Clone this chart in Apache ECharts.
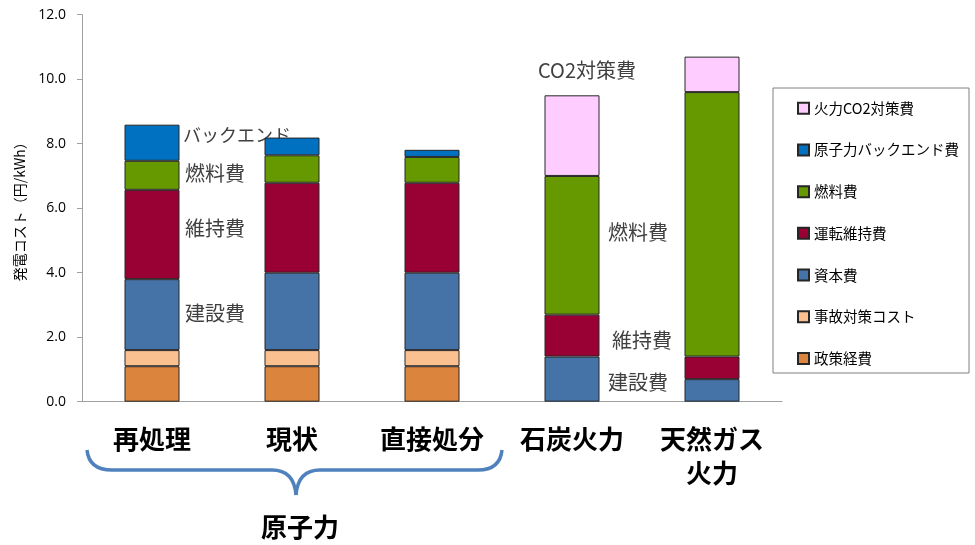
<!DOCTYPE html>
<html><head><meta charset="utf-8">
<script src="https://cdn.jsdelivr.net/npm/echarts@6/dist/echarts.min.js"></script>
<style>html,body{margin:0;padding:0;background:#fff}#c{width:975px;height:545px}</style>
</head><body><div id="c"></div>
<script>
const categories = ['再処理', '現状', '直接処分', '石炭火力', '天然ガス\n火力'];
const seriesNames = ['政策経費', '事故対策コスト', '資本費', '運転維持費', '燃料費', '原子力バックエンド費', '火力CO2対策費'];
const policyCost   = [1.1, 1.1, 1.1, null, null];
const accidentCost = [0.5, 0.5, 0.5, null, null];
const capitalCost  = [2.2, 2.4, 2.4, 1.4, 0.7];
const omCost       = [2.77, 2.79, 2.79, 1.3, 0.7];
const fuelCost     = [0.9, 0.85, 0.8, 4.3, 8.2];
const backendCost  = [1.12, 0.55, 0.22, null, null];
const co2Cost      = [null, null, null, 2.5, 1.1];
const yTicks = [0, 2, 4, 6, 8, 10, 12];
const colors = ['#DB843D', '#FAC090', '#4572A7', '#990033', '#669900', '#0070C0', '#FFCCFF'];
const values = [policyCost, accidentCost, capitalCost, omCost, fuelCost, backendCost, co2Cost];

const chart = echarts.init(document.getElementById('c'));
const jp = '"Noto Sans CJK JP", "Noto Sans", sans-serif';
const braceStyle = {fill: 'none', stroke: '#4F81BD', lineWidth: 3.5};
function anno(text, x, y, fs) {
  return {type: 'text', x: x, y: y, style: {text: text, verticalAlign: 'middle', fill: '#404040', fontSize: fs || 20, fontFamily: jp}};
}

chart.setOption({
  animation: false,
  textStyle: {fontFamily: jp},
  grid: {left: 82, right: 193, top: 14.7, bottom: 143.3},
  legend: {
    orient: 'vertical', left: 792, top: 96,
    data: seriesNames.slice().reverse(),
    itemWidth: 11, itemHeight: 11, itemGap: 27.2,
    icon: 'rect',
    textStyle: {fontSize: 14.5, color: '#000', lineHeight: 14.5, fontFamily: jp},
    selectedMode: false
  },
  xAxis: {
    type: 'category', data: categories,
    axisLine: {lineStyle: {color: '#A0A0A0', width: 1}},
    axisTick: {length: 5, lineStyle: {color: '#A0A0A0'}},
    axisLabel: {fontSize: 26, fontWeight: 'bold', color: '#000', lineHeight: 34, margin: 20, interval: 0, fontFamily: jp}
  },
  yAxis: {
    type: 'value', min: yTicks[0], max: yTicks[yTicks.length - 1], interval: 2,
    name: '発電コスト（円/kWh）', nameLocation: 'middle', nameGap: 55, nameRotate: 90,
    nameTextStyle: {fontSize: 14, color: '#000', fontFamily: jp},
    axisLine: {show: true, lineStyle: {color: '#A0A0A0'}},
    axisTick: {show: true, length: 5, lineStyle: {color: '#A0A0A0'}},
    splitLine: {show: false},
    axisLabel: {fontSize: 14, color: '#000', margin: 16, formatter: v => v.toFixed(1), fontFamily: '"Open Sans", sans-serif'}
  },
  series: seriesNames.map((n, i) => ({
    name: n, type: 'bar', stack: 'total', data: values[i],
    barWidth: 55,
    itemStyle: {color: colors[i], borderColor: '#262626', borderWidth: 1}
  })),
  graphic: [
    {type: 'rect', shape: {x: 773, y: 88, width: 196, height: 285}, style: {fill: 'none', stroke: '#808080', lineWidth: 1}},
    anno('バックエンド', 183, 135, 18),
    anno('燃料費', 185, 173),
    anno('維持費', 185, 228),
    anno('建設費', 185, 313),
    anno('CO2対策費', 538, 70),
    anno('燃料費', 608, 232),
    anno('維持費', 612, 340),
    anno('建設費', 608, 382),
    {type: 'bezierCurve', shape: {x1: 87, y1: 450, cpx1: 89, cpy1: 470, x2: 112, y2: 470}, style: braceStyle},
    {type: 'line', shape: {x1: 112, y1: 470, x2: 272, y2: 470}, style: braceStyle},
    {type: 'bezierCurve', shape: {x1: 272, y1: 470, cpx1: 294, cpy1: 470, x2: 296, y2: 495}, style: braceStyle},
    {type: 'bezierCurve', shape: {x1: 296, y1: 495, cpx1: 298, cpy1: 470, x2: 320, y2: 470}, style: braceStyle},
    {type: 'line', shape: {x1: 320, y1: 470, x2: 478, y2: 470}, style: braceStyle},
    {type: 'bezierCurve', shape: {x1: 478, y1: 470, cpx1: 500, cpy1: 470, x2: 502, y2: 450}, style: braceStyle},
    {type: 'text', x: 300, y: 527, style: {text: '原子力', fill: '#000', fontSize: 26, fontWeight: 'bold', fontFamily: jp, align: 'center', verticalAlign: 'middle'}}
  ]
});
</script></body></html>
